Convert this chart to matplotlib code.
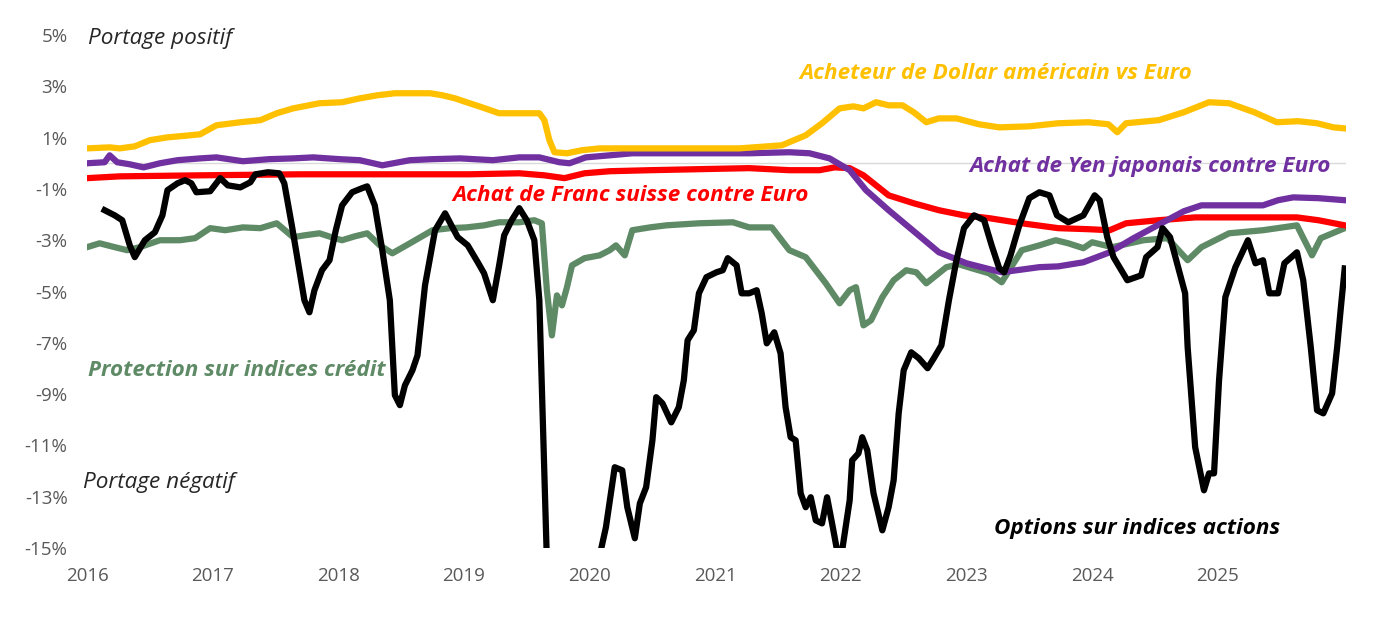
import matplotlib.pyplot as plt

plt.rcParams['font.family'] = ['Open Sans', 'DejaVu Sans']

# Acheteur de Dollar americain vs Euro
usd_x = [2016.00, 2016.18, 2016.26, 2016.38, 2016.50, 2016.64, 2016.82, 2016.90, 2017.03, 2017.22,
         2017.38, 2017.51, 2017.64, 2017.85, 2018.03, 2018.17, 2018.31, 2018.45, 2018.57, 2018.73,
         2018.83, 2018.93, 2019.02, 2019.12, 2019.28, 2019.44, 2019.60, 2019.64, 2019.68, 2019.72,
         2019.82, 2019.94, 2020.08, 2020.34, 2020.71, 2021.19, 2021.53, 2021.72, 2021.85, 2021.99,
         2022.10, 2022.18, 2022.28, 2022.38, 2022.49, 2022.58, 2022.68, 2022.78, 2022.92, 2023.10,
         2023.26, 2023.50, 2023.73, 2023.97, 2024.13, 2024.20, 2024.27, 2024.53, 2024.73, 2024.93,
         2025.09, 2025.29, 2025.47, 2025.64, 2025.79, 2025.92, 2026.01]
usd_y = [0.58, 0.62, 0.58, 0.66, 0.90, 1.01, 1.09, 1.13, 1.48, 1.60,
         1.68, 1.95, 2.14, 2.34, 2.38, 2.53, 2.65, 2.73, 2.73, 2.73,
         2.65, 2.53, 2.38, 2.22, 1.95, 1.95, 1.95, 1.68, 0.90, 0.43,
         0.39, 0.51, 0.58, 0.58, 0.58, 0.58, 0.70, 1.09, 1.56, 2.14,
         2.22, 2.14, 2.38, 2.26, 2.26, 1.99, 1.60, 1.75, 1.75, 1.52,
         1.40, 1.44, 1.56, 1.60, 1.52, 1.21, 1.56, 1.68, 1.99, 2.38,
         2.34, 1.99, 1.60, 1.64, 1.56, 1.40, 1.36]

# Achat de Yen japonais contre Euro
jpy_x = [2016.00, 2016.14, 2016.18, 2016.24, 2016.34, 2016.45, 2016.58, 2016.72, 2016.90, 2017.03,
         2017.24, 2017.45, 2017.64, 2017.80, 2018.01, 2018.17, 2018.35, 2018.57, 2018.75, 2018.97,
         2019.23, 2019.44, 2019.60, 2019.76, 2019.84, 2019.97, 2020.16, 2020.34, 2020.87, 2021.27,
         2021.59, 2021.75, 2021.91, 2022.07, 2022.20, 2022.38, 2022.60, 2022.78, 2023.00, 2023.28,
         2023.58, 2023.73, 2023.93, 2024.14, 2024.33, 2024.55, 2024.73, 2024.87, 2025.09, 2025.36,
         2025.48, 2025.60, 2025.80, 2026.01]
jpy_y = [0.00, 0.04, 0.31, 0.04, -0.04, -0.16, 0.00, 0.12, 0.19, 0.23,
         0.08, 0.16, 0.19, 0.23, 0.16, 0.12, -0.08, 0.12, 0.16, 0.19,
         0.12, 0.23, 0.23, 0.04, 0.00, 0.23, 0.31, 0.39, 0.39, 0.39,
         0.43, 0.39, 0.19, -0.27, -1.05, -1.83, -2.73, -3.47, -3.90, -4.25,
         -4.05, -4.02, -3.86, -3.47, -2.92, -2.34, -1.87, -1.64, -1.64, -1.64,
         -1.44, -1.33, -1.36, -1.44]

# Achat de Franc suisse contre Euro
chf_x = [2016.00, 2016.26, 2016.90, 2017.69, 2018.49, 2019.04, 2019.44, 2019.64, 2019.80, 2019.96,
         2020.16, 2020.48, 2020.87, 2021.27, 2021.59, 2021.83, 2021.95, 2022.07, 2022.18, 2022.38,
         2022.58, 2022.78, 2022.98, 2023.18, 2023.44, 2023.73, 2023.97, 2024.14, 2024.27, 2024.53,
         2024.82, 2025.24, 2025.63, 2025.80, 2026.01]
chf_y = [-0.58, -0.51, -0.47, -0.43, -0.43, -0.43, -0.39, -0.47, -0.58, -0.39,
         -0.31, -0.27, -0.23, -0.19, -0.27, -0.27, -0.16, -0.19, -0.47, -1.25,
         -1.56, -1.83, -2.03, -2.14, -2.34, -2.53, -2.57, -2.61, -2.34, -2.22,
         -2.11, -2.11, -2.11, -2.22, -2.42]

# Protection sur indices credit
credit_x = [2016.00, 2016.10, 2016.22, 2016.32, 2016.42, 2016.58, 2016.74, 2016.86, 2016.98, 2017.10,
            2017.24, 2017.38, 2017.51, 2017.64, 2017.73, 2017.85, 2017.97, 2018.03, 2018.13, 2018.23,
            2018.33, 2018.43, 2018.57, 2018.75, 2018.89, 2019.02, 2019.16, 2019.28, 2019.44, 2019.56,
            2019.62, 2019.66, 2019.70, 2019.74, 2019.78, 2019.82, 2019.86, 2019.96, 2020.08, 2020.16,
            2020.21, 2020.28, 2020.34, 2020.48, 2020.61, 2020.87, 2021.14, 2021.27, 2021.45, 2021.59,
            2021.72, 2021.88, 2021.99, 2022.07, 2022.12, 2022.18, 2022.24, 2022.33, 2022.42, 2022.52,
            2022.60, 2022.68, 2022.84, 2022.94, 2023.04, 2023.18, 2023.28, 2023.44, 2023.58, 2023.71,
            2023.81, 2023.93, 2024.00, 2024.16, 2024.41, 2024.60, 2024.76, 2024.87, 2025.09, 2025.36,
            2025.63, 2025.75, 2025.82, 2026.01]
credit_y = [-3.27, -3.12, -3.27, -3.39, -3.27, -3.00, -3.00, -2.92, -2.53, -2.61,
            -2.50, -2.53, -2.34, -2.88, -2.81, -2.73, -2.92, -3.00, -2.85, -2.73,
            -3.20, -3.51, -3.12, -2.61, -2.53, -2.50, -2.42, -2.30, -2.30, -2.22,
            -2.34, -4.95, -6.71, -5.15, -5.54, -4.83, -3.98, -3.70, -3.59, -3.39,
            -3.20, -3.59, -2.61, -2.50, -2.42, -2.34, -2.30, -2.50, -2.50, -3.39,
            -3.66, -4.68, -5.46, -4.95, -4.83, -6.32, -6.12, -5.22, -4.56, -4.17,
            -4.25, -4.68, -4.05, -3.94, -4.09, -4.29, -4.64, -3.39, -3.20, -3.00,
            -3.12, -3.31, -3.08, -3.27, -3.00, -2.92, -3.78, -3.27, -2.73, -2.61,
            -2.42, -3.59, -2.92, -2.53]

# Options sur indices actions
equity_x = [2016.14, 2016.22, 2016.28, 2016.34, 2016.38, 2016.46, 2016.54, 2016.60, 2016.64, 2016.72,
            2016.78, 2016.83, 2016.87, 2016.98, 2017.06, 2017.12, 2017.22, 2017.30, 2017.34, 2017.44,
            2017.53, 2017.57, 2017.63, 2017.69, 2017.73, 2017.77, 2017.81, 2017.87, 2017.93, 2017.98,
            2018.03, 2018.11, 2018.19, 2018.23, 2018.29, 2018.35, 2018.41, 2018.45, 2018.49, 2018.53,
            2018.59, 2018.63, 2018.69, 2018.77, 2018.85, 2018.90, 2018.95, 2019.03, 2019.11, 2019.16,
            2019.23, 2019.28, 2019.32, 2019.38, 2019.44, 2019.50, 2019.56, 2019.60, 2019.63, 2019.66,
            2019.80, 2019.95, 2020.08, 2020.13, 2020.20, 2020.26, 2020.30, 2020.36, 2020.40, 2020.45,
            2020.50, 2020.53, 2020.58, 2020.65, 2020.71, 2020.75, 2020.78, 2020.83, 2020.87, 2020.93,
            2021.01, 2021.06, 2021.10, 2021.17, 2021.21, 2021.27, 2021.33, 2021.37, 2021.41, 2021.47,
            2021.52, 2021.56, 2021.60, 2021.64, 2021.68, 2021.72, 2021.76, 2021.80, 2021.85, 2021.89,
            2021.93, 2021.97, 2022.01, 2022.07, 2022.09, 2022.14, 2022.17, 2022.21, 2022.26, 2022.33,
            2022.38, 2022.42, 2022.46, 2022.50, 2022.56, 2022.62, 2022.69, 2022.74, 2022.80, 2022.86,
            2022.92, 2022.98, 2023.06, 2023.14, 2023.20, 2023.26, 2023.30, 2023.35, 2023.42, 2023.50,
            2023.58, 2023.66, 2023.72, 2023.81, 2023.93, 2024.02, 2024.06, 2024.12, 2024.17, 2024.28,
            2024.39, 2024.43, 2024.52, 2024.56, 2024.62, 2024.74, 2024.76, 2024.82, 2024.89, 2024.93,
            2024.97, 2025.01, 2025.06, 2025.14, 2025.24, 2025.30, 2025.36, 2025.41, 2025.48, 2025.53,
            2025.63, 2025.68, 2025.74, 2025.79, 2025.84, 2025.91, 2025.95, 2025.98, 2026.01]
equity_y = [-1.83, -2.03, -2.22, -3.20, -3.66, -3.00, -2.69, -2.03, -1.05, -0.78,
            -0.66, -0.78, -1.13, -1.09, -0.58, -0.86, -0.94, -0.74, -0.43, -0.35,
            -0.39, -0.78, -2.42, -4.17, -5.34, -5.81, -4.95, -4.17, -3.78, -2.61,
            -1.64, -1.13, -0.97, -0.90, -1.64, -3.39, -5.34, -9.04, -9.43, -8.66,
            -8.07, -7.49, -4.76, -2.61, -1.95, -2.42, -2.88, -3.20, -3.86, -4.29,
            -5.34, -3.98, -2.81, -2.22, -1.75, -2.22, -3.00, -5.34, -10.41, -15.5,
            -19.0, -18.0, -15.3, -14.19, -11.85, -11.97, -13.41, -14.62, -13.26, -12.63,
            -10.80, -9.12, -9.36, -10.10, -9.51, -8.46, -6.90, -6.51, -5.07, -4.44,
            -4.25, -4.17, -3.70, -3.98, -5.07, -5.07, -4.95, -5.85, -7.02, -6.59,
            -7.41, -9.51, -10.68, -10.80, -12.87, -13.41, -13.02, -13.92, -14.04, -13.02,
            -14.04, -15.1, -15.1, -13.14, -11.58, -11.31, -10.68, -11.19, -12.87, -14.31,
            -13.41, -12.36, -9.75, -8.07, -7.37, -7.60, -7.99, -7.60, -7.10, -5.34,
            -3.78, -2.53, -2.03, -2.22, -3.20, -4.09, -4.25, -3.59, -2.42, -1.36,
            -1.13, -1.25, -2.03, -2.30, -2.03, -1.25, -1.44, -2.88, -3.66, -4.56,
            -4.37, -3.66, -3.27, -2.53, -2.88, -5.07, -7.17, -11.07, -12.75, -12.09,
            -12.09, -8.46, -5.22, -4.05, -3.00, -3.90, -3.78, -5.07, -5.07, -3.90,
            -3.47, -4.56, -7.17, -9.63, -9.75, -8.97, -7.17, -5.60, -4.10]

y_ticks = [5, 3, 1, -1, -3, -5, -7, -9, -11, -13, -15]
x_ticks = [2016, 2017, 2018, 2019, 2020, 2021, 2022, 2023, 2024, 2025]

fig = plt.figure(figsize=(13.86, 6.31), dpi=100)
ax = fig.add_axes([0.0628, 0.1315, 0.9083, 0.8130])

ax.axhline(0, color="#d9d9d9", lw=1, zorder=1)
ax.plot(credit_x, credit_y, color="#5e8a66", lw=4.5, zorder=2)
ax.plot(chf_x, chf_y, color="#ff0000", lw=4.5, zorder=3)
ax.plot(jpy_x, jpy_y, color="#7030a0", lw=4.5, zorder=4)
ax.plot(usd_x, usd_y, color="#ffc000", lw=4.5, zorder=5)
ax.plot(equity_x, equity_y, color="black", lw=4.5, zorder=6)

ax.set_xlim(2016, 2026.02)
ax.set_ylim(-15, 5)
ax.set_yticks(y_ticks)
ax.set_yticklabels([f"{t}%" for t in y_ticks])
ax.set_xticks(x_ticks)
ax.set_xticklabels([str(t) for t in x_ticks])
ax.tick_params(axis="both", length=0, labelsize=13.5, labelcolor="#595959")
ax.tick_params(axis="y", pad=14)
ax.tick_params(axis="x", pad=14)
for s in ax.spines.values():
    s.set_visible(False)

# annotations
fs = 16.2
ax.text(2016.01, 4.87, "Portage positif", fontsize=fs, style="italic",
        color="#262626", va="center", zorder=10)
ax.text(2015.97, -12.44, "Portage négatif", fontsize=fs, style="italic",
        color="#262626", va="center", zorder=10)
ax.text(2021.67, 3.51, "Acheteur de Dollar américain vs Euro", fontsize=fs,
        style="italic", weight="bold", color="#ffc000", va="center", zorder=10)
ax.text(2018.91, -1.25, "Achat de Franc suisse contre Euro", fontsize=fs,
        style="italic", weight="bold", color="#ff0000", va="center", zorder=10)
ax.text(2023.02, -0.12, "Achat de Yen japonais contre Euro", fontsize=fs,
        style="italic", weight="bold", color="#7030a0", va="center", zorder=10)
ax.text(2016.01, -8.07, "Protection sur indices crédit", fontsize=fs,
        style="italic", weight="bold", color="#5e8a66", va="center", zorder=10)
ax.text(2023.22, -14.23, "Options sur indices actions", fontsize=fs,
        style="italic", weight="bold", color="black", va="center", zorder=10)

fig.savefig("out.png", dpi=100)
